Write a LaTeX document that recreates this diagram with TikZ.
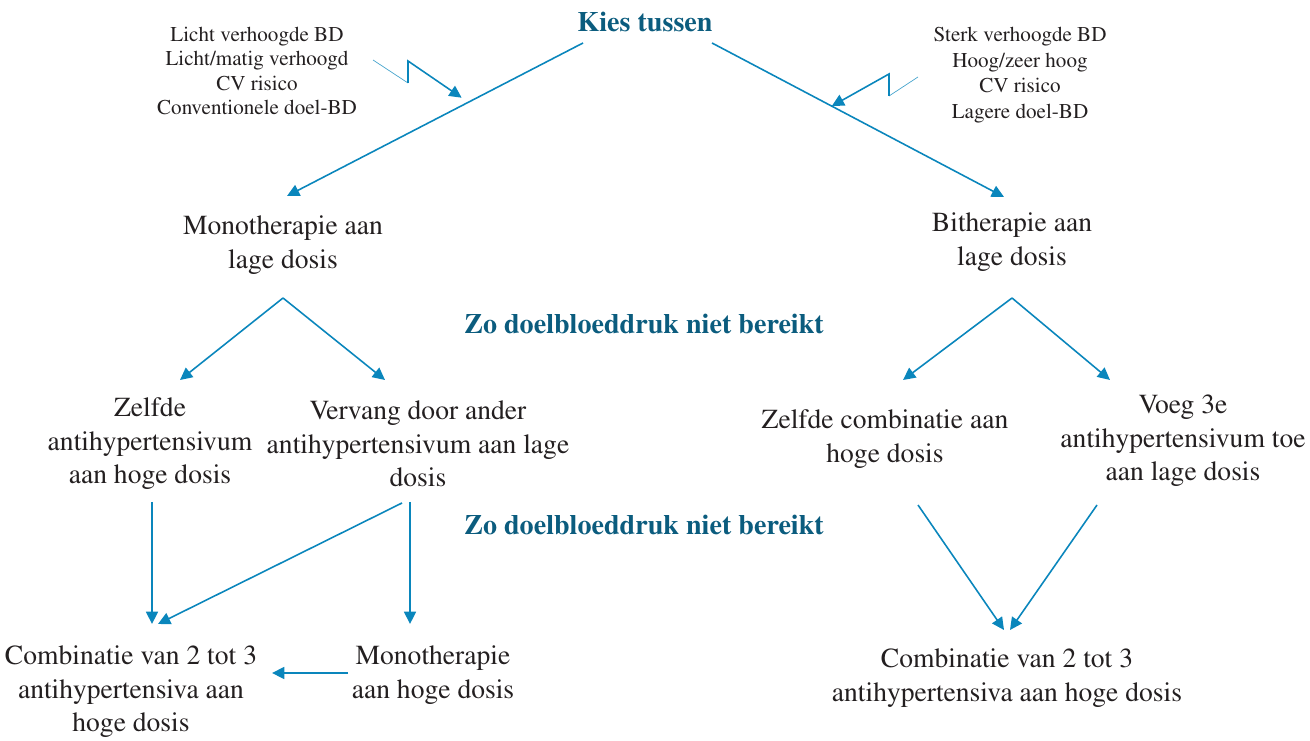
\documentclass[tikz,border=0pt]{standalone}
\usepackage[T1]{fontenc}
\usepackage{times}
\usepackage{xcolor}
\usetikzlibrary{arrows.meta,positioning,calc}
\definecolor{arrowblue}{HTML}{0A86BC}
\definecolor{headteal}{HTML}{0B5C7E}
\definecolor{textgrey}{HTML}{231F20}

\begin{document}
\begin{tikzpicture}[
    x=0.02cm, y=0.02cm,
    >={Triangle[length=7pt,width=6.8pt]},
    txt/.style={align=center, inner sep=0pt, text=textgrey,
                font=\fontsize{15.7}{19}\selectfont},
    note/.style={align=center, inner sep=0pt, text=textgrey,
                 font=\fontsize{12}{13.8}\selectfont},
    head/.style={inner sep=0pt, text=headteal,
                 font=\fontsize{16}{19}\selectfont\bfseries},
    arrow/.style={->, arrowblue, line width=0.9pt},
    zigthin/.style={arrowblue!75, line width=0.4pt},
  ]
  \useasboundingbox (0,0) rectangle (1310,740);

  % choice at the top
  \node[head] (kies) at (645,718) {Kies tussen};
  \node[note] (noteL) at (257,669)
    {Licht verhoogde BD\\Licht/matig verhoogd\\CV risico\\Conventionele doel-BD};
  \node[note, font=\fontsize{12}{14.6}\selectfont] (noteR) at (1020,665)
    {Sterk verhoogde BD\\Hoog/zeer hoog\\CV risico\\Lagere doel-BD};

  \node[txt] (mono) at (283,495) {Monotherapie aan\\lage dosis};
  \node[txt] (bi) at (1012,498) {Bitherapie aan\\lage dosis};

  \node[head] (zo1) at (644,416) {Zo doelbloeddruk niet bereikt};

  \node[txt] (zelfde) at (150,296) {Zelfde\\antihypertensivum\\aan hoge dosis};
  \node[txt] (vervang) at (418,296)
    {Vervang door ander\\antihypertensivum aan lage\\dosis};
  \node[txt] (zelfdeC) at (885,301) {Zelfde combinatie aan\\hoge dosis};
  \node[txt] (voeg) at (1183,299)
    {Voeg 3e\\antihypertensivum toe\\aan lage dosis};

  \node[head] (zo2) at (644,215) {Zo doelbloeddruk niet bereikt};

  \node[txt] (combL) at (131,48)
    {Combinatie van 2 tot 3\\antihypertensiva aan\\hoge dosis};
  \node[txt] (monoH) at (433,65) {Monotherapie\\aan hoge dosis};
  \node[txt] (combR) at (1007,62)
    {Combinatie van 2 tot 3\\antihypertensiva aan hoge dosis};

  % top branches
  \draw[arrow] ($(kies)+(-62,-21)$) -- coordinate[pos=0.41] (hitL)
    ($(mono)+(4,49)$);
  \draw[arrow] ($(kies)+(67,-21)$) -- coordinate[pos=0.41] (hitR)
    ($(bi)+(-8,45)$);

  % zigzag pointers from the notes
  \coordinate (zl) at ($(noteL)+(151,-12)$);
  \draw[zigthin] ($(noteL)+(116,11)$) -- (zl);
  \draw[arrow] (zl) -- ++(0,22) -- ($(hitL)+(0,8)$);
  \coordinate (zr) at ($(noteR)+(-131,-21)$);
  \draw[zigthin] ($(noteR)+(-102,-2)$) -- (zr);
  \draw[arrow] (zr) -- ++(0,22) -- (hitR);

  % second level
  \draw[arrow] ($(mono)+(0,-53)$) -- ($(zelfde)+(30,64)$);
  \draw[arrow] ($(mono)+(0,-53)$) -- ($(vervang)+(-33,64)$);
  \draw[arrow] ($(bi)+(0,-56)$) -- ($(zelfdeC)+(18,59)$);
  \draw[arrow] ($(bi)+(0,-56)$) -- ($(voeg)+(-73,61)$);

  % third level
  \draw[arrow] ($(zelfde)+(2,-58)$) -- ($(combL)+(21,68)$);
  \draw[arrow] ($(vervang)+(-16,-59)$) -- ($(combL)+(27,68)$);
  \draw[arrow] ($(vervang)+(-8,-58)$) -- ($(monoH)+(-23,51)$);
  \draw[arrow] ($(monoH)+(-85,2)$) -- ($(combL)+(141,19)$);
  \draw[arrow] ($(zelfdeC)+(33,-66)$) -- ($(combR)+(-3,48)$);
  \draw[arrow] ($(voeg)+(-86,-64)$) -- ($(combR)+(3,48)$);

\end{tikzpicture}
\end{document}
